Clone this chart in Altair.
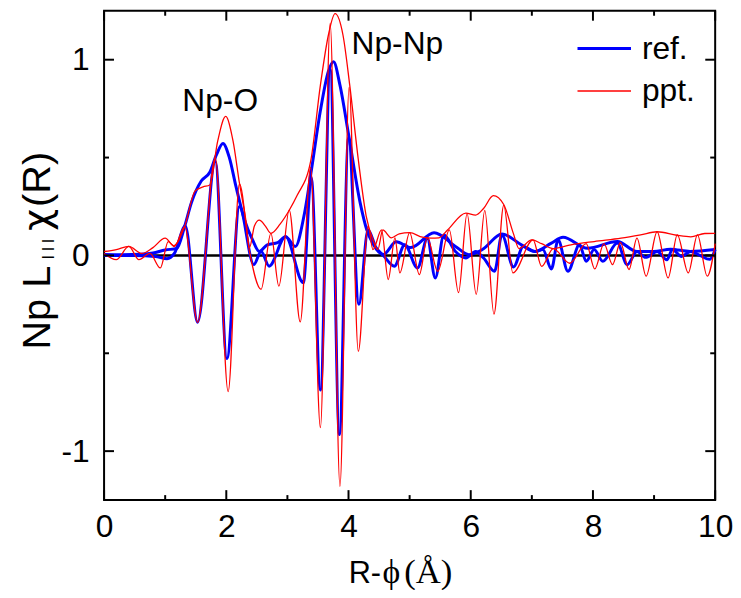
import altair as alt
import pandas as pd

# ---------------- data ----------------
# ref. : magnitude envelope
ref_mag_R = [0, 0.3, 0.6, 0.8, 1.0, 1.19, 1.32, 1.43, 1.59, 1.73, 1.84, 1.945, 2.05, 2.16, 2.30,
             2.43, 2.54, 2.67, 2.84, 2.97, 3.13, 3.27, 3.40, 3.54, 3.67, 3.755, 3.86, 4.0, 4.19,
             4.30, 4.40, 4.57, 4.78, 5.02, 5.40, 5.75, 5.97, 6.19, 6.51, 6.83, 7.05, 7.32, 7.51,
             7.91, 8.40, 8.72, 8.99, 9.27, 9.59, 10.0]
ref_mag_V = [0.005, 0.004, 0.006, 0.012, 0.028, 0.035, 0.15, 0.27, 0.38, 0.425, 0.515, 0.572, 0.50,
             0.35, 0.18, 0.079, 0.02, 0.054, 0.065, 0.096, 0.046, 0.2, 0.45, 0.74, 0.94, 0.99, 0.87,
             0.62, 0.27, 0.13, 0.06, 0.005, 0.07, 0.04, 0.116, 0.046, 0.004, 0.03, 0.11, 0.054,
             0.02, 0.063, 0.093, 0.037, 0.071, 0.02, 0.02, 0.032, 0.02, 0.03]

# ref. : real part
ref_re_R = [0, 0.5, 0.84, 1.03, 1.15, 1.33, 1.53, 1.82, 2.01, 2.215, 2.45, 2.57, 2.70, 2.97, 3.26,
            3.39, 3.54, 3.70, 3.85, 4.0, 4.17, 4.32, 4.45, 4.57, 4.75, 4.92, 5.13, 5.29, 5.42,
            5.56, 5.75, 5.92, 6.08, 6.21, 6.39, 6.51, 6.70, 6.86, 7.05, 7.18, 7.32, 7.43, 7.59,
            7.78, 7.89, 8.02, 8.16, 8.40, 8.56, 8.72, 8.86, 9.05, 9.21, 9.30, 9.45, 9.6, 9.75,
            9.91, 10.0]
ref_re_V = [0.0, 0.0, -0.005, -0.017, 0.01, 0.15, -0.342, 0.48, -0.527, 0.25, -0.047, 0.02, -0.055,
            0.096, -0.14, 0.40, -0.688, 0.95, -0.915, 0.60, -0.25, 0.13, 0.04, 0.0, -0.055, 0.054,
            -0.064, 0.088, -0.115, 0.105, 0.02, -0.013, 0.02, -0.013, -0.081, 0.105, -0.059, 0.046,
            0.02, 0.03, -0.069, 0.079, -0.081, 0.054, -0.03, 0.03, -0.03, 0.063, -0.047, 0.02,
            -0.01, 0.02, -0.022, 0.03, -0.005, 0.02, 0.0, -0.02, 0.03]

# ppt. : magnitude envelope
ppt_mag_R = [0, 0.2, 0.405, 0.62, 0.8, 1.0, 1.14, 1.32, 1.49, 1.62, 1.73, 1.86, 1.99, 2.11, 2.215,
             2.32, 2.38, 2.46, 2.54, 2.64, 2.73, 2.88, 3.03, 3.16, 3.38, 3.54, 3.67, 3.78, 3.91,
             4.02, 4.16, 4.29, 4.40, 4.48, 4.56, 4.70, 4.83, 5.0, 5.21, 5.35, 5.48, 5.62, 5.92,
             6.08, 6.21, 6.37, 6.54, 6.70, 6.79, 7.0, 7.16, 7.35, 7.64, 8.02, 8.46, 8.78, 9.05,
             9.37, 9.60, 9.83, 10.0]
ppt_mag_V = [0.02, 0.03, 0.046, 0.01, 0.04, 0.088, 0.05, 0.15, 0.33, 0.35, 0.36, 0.585, 0.71, 0.585,
             0.37, 0.18, 0.04, 0.15, 0.18, 0.15, 0.113, 0.16, 0.231, 0.307, 0.48, 0.87, 1.125,
             1.235, 1.125, 0.87, 0.49, 0.2, 0.08, 0.03, 0.13, 0.09, 0.11, 0.116, 0.093, 0.088,
             0.09, 0.13, 0.216, 0.206, 0.24, 0.305, 0.26, 0.11, 0.035, 0.079, 0.06, 0.035, 0.054,
             0.071, 0.088, 0.105, 0.121, 0.103, 0.095, 0.112, 0.113]

# ppt. : real part
ppt_re_R = [0, 0.2, 0.405, 0.57, 0.75, 0.92, 1.05, 1.15, 1.32, 1.53, 1.82, 2.03, 2.215, 2.38, 2.57,
            2.73, 2.86, 3.03, 3.21, 3.38, 3.54, 3.70, 3.86, 4.01, 4.16, 4.32, 4.40, 4.54, 4.65,
            4.76, 4.84, 5.0, 5.16, 5.29, 5.46, 5.65, 5.80, 5.94, 6.09, 6.23, 6.38, 6.54, 6.69,
            7.02, 7.16, 7.35, 7.62, 7.89, 8.03, 8.18, 8.32, 8.45, 8.59, 8.72, 8.87, 9.05, 9.23,
            9.38, 9.56, 9.71, 9.87, 10.0]
ppt_re_V = [0.01, -0.022, 0.046, -0.022, 0.01, -0.064, 0.07, 0.045, 0.147, -0.342, 0.50, -0.696,
            0.366, 0.02, -0.173, 0.113, -0.157, 0.231, -0.34, 0.45, -0.88, 1.185, -1.18, 0.86,
            -0.49, 0.15, 0.03, 0.13, -0.123, 0.09, -0.089, 0.116, -0.098, 0.09, -0.081, 0.13,
            -0.19, 0.214, -0.199, 0.23, -0.30, 0.256, -0.089, 0.079, -0.056, 0.035, -0.04, 0.06,
            -0.069, 0.06, -0.047, 0.066, -0.072, 0.088, -0.106, 0.121, -0.115, 0.105, -0.089,
            0.105, -0.106, 0.06]

x_major = [0, 2, 4, 6, 8, 10]
x_minor = [1, 3, 5, 7, 9]
y_major = [-1, 0, 1]
y_minor = [-0.5, 0.5]

# ---------------- styling ----------------
W, H = 617, 494
SANS = "Liberation Sans, Arial, sans-serif"
SERIF = "Liberation Serif, Times New Roman, serif"
GREEK = "DejaVu Sans, sans-serif"
BLUE = "#0000ff"
RED = "#ff0000"

def frame(R, V, name):
    return pd.DataFrame({"R": R, "v": V, "curve": name})

ref_df = pd.concat([frame(ref_mag_R, ref_mag_V, "mag"), frame(ref_re_R, ref_re_V, "re")])
ppt_df = pd.concat([frame(ppt_mag_R, ppt_mag_V, "mag"), frame(ppt_re_R, ppt_re_V, "re")])

xs = alt.Scale(domain=[0, 10], nice=False, zero=False)
ys = alt.Scale(domain=[-1.25, 1.25], nice=False, zero=False)

hyphen_label = "datum.value < 0 ? '-' + abs(datum.value) : '' + datum.value"

x_axis = alt.Axis(values=x_major, ticks=False, domain=False, grid=False, title=None,
                  labelFont=SANS, labelFontSize=32, labelColor="black", labelPadding=12,
                  labelExpr=hyphen_label, labelFlush=False, labelOverlap=False)
y_axis = alt.Axis(values=y_major, ticks=False, domain=False, grid=False, title=None,
                  labelFont=SANS, labelFontSize=32, labelColor="black", labelPadding=15,
                  labelExpr=hyphen_label, labelFlush=False, labelOverlap=False)

def X(field):
    return alt.X(field, scale=xs, axis=x_axis)

def Y(field):
    return alt.Y(field, scale=ys, axis=y_axis)

zero = alt.Chart(pd.DataFrame({"z": [0]})).mark_rule(color="black", strokeWidth=2.5).encode(
    y=Y("z:Q"), x=alt.value(0), x2=alt.value(W))

ref_lines = alt.Chart(ref_df).mark_line(color=BLUE, strokeWidth=3, interpolate="monotone").encode(
    x=X("R:Q"), y=Y("v:Q"), detail="curve:N")

ppt_lines = alt.Chart(ppt_df).mark_line(color=RED, strokeWidth=1.3, interpolate="monotone").encode(
    x=X("R:Q"), y=Y("v:Q"), detail="curve:N")

# inward ticks (frame decoration)
def xticks(vals, y0, y1):
    return alt.Chart(pd.DataFrame({"t": vals})).mark_rule(color="black", strokeWidth=2).encode(
        x=X("t:Q"), y=alt.value(y0), y2=alt.value(y1))

def yticks(vals, x0, x1):
    return alt.Chart(pd.DataFrame({"t": vals})).mark_rule(color="black", strokeWidth=2).encode(
        y=Y("t:Q"), x=alt.value(x0), x2=alt.value(x1))

ticks = [xticks(x_major, H, H - 10), xticks(x_minor, H, H - 5),
         xticks(x_major, 0, 10), xticks(x_minor, 0, 5),
         yticks(y_major, 0, 10), yticks(y_minor, 0, 5),
         yticks(y_major, W, W - 10), yticks(y_minor, W, W - 5)]

one = pd.DataFrame({"a": [0]})

def label(text, x, y, size, font=SANS, angle=0, align="left", baseline="alphabetic"):
    kw = dict(text=text, font=font, fontSize=size, color="black", align=align, baseline=baseline)
    if angle:
        kw["angle"] = angle
    return alt.Chart(one).mark_text(**kw).encode(x=alt.value(x), y=alt.value(y))

annot_df = pd.DataFrame({"R": [1.90, 4.05], "v": [0.737, 1.03], "t": ["Np-O", "Np-Np"]})
annot = [
    alt.Chart(annot_df.iloc[[0]]).mark_text(
        font=SANS, fontSize=32, color="black", align="center", baseline="alphabetic").encode(
        x=X("R:Q"), y=Y("v:Q"), text="t:N"),
    alt.Chart(annot_df.iloc[[1]]).mark_text(
        font=SANS, fontSize=32, color="black", align="left", baseline="alphabetic").encode(
        x=X("R:Q"), y=Y("v:Q"), text="t:N"),
]

legend = [
    alt.Chart(one).mark_rule(color=BLUE, strokeWidth=3).encode(
        x=alt.value(478), x2=alt.value(532), y=alt.value(38)),
    alt.Chart(one).mark_rule(color=RED, strokeWidth=1.3).encode(
        x=alt.value(478), x2=alt.value(532), y=alt.value(81)),
    label("ref.", 543, 49, 32),
    label("ppt.", 543, 91, 32),
]

titles = [
    label("R-", 247, 578, 31),
    label("\u03d5", 281, 578, 34, font=SERIF),
    label("(\u00c5)", 303, 578, 35, font=SERIF),
    label("Np L", -55, 342, 40, angle=270),
    label("I\u2009I\u2009I", -51, 251, 17, angle=270),
    label("\u03c7", -55, 222, 38, font=GREEK, angle=270),
    label("(R)", -55, 198, 40, angle=270),
]

chart = alt.layer(zero, ref_lines, ppt_lines, *ticks, *annot, *legend, *titles).properties(
    width=W, height=H,
    padding={"left": 97, "top": 0, "right": 18, "bottom": 88},
    autosize=alt.AutoSizeParams(type="none"),
    background="white",
).configure_view(stroke="black", strokeWidth=2)

chart.save("out.html", embed_options={"renderer": "svg", "actions": False})
